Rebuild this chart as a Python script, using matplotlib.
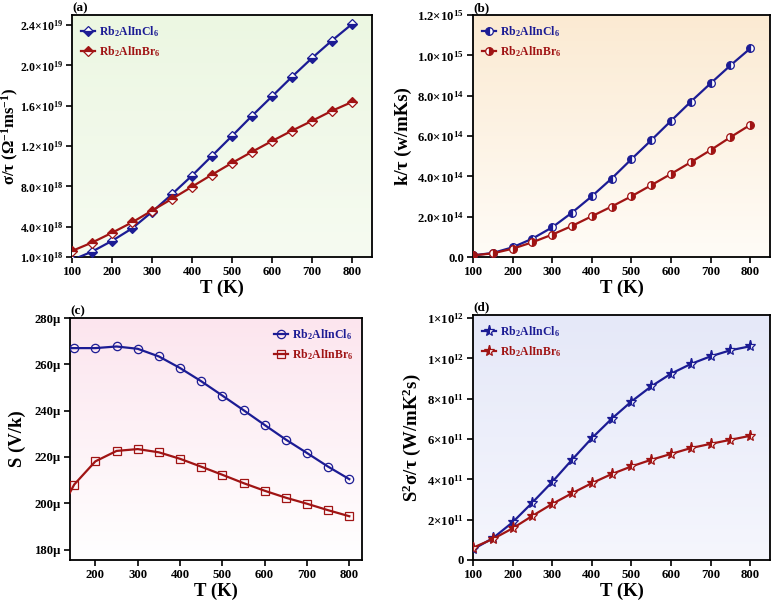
import numpy as np
import matplotlib
matplotlib.use("Agg")
from matplotlib import pyplot as plt
from matplotlib.ticker import FuncFormatter

plt.rcParams["font.family"] = ["Liberation Serif", "DejaVu Serif"]
plt.rcParams["font.weight"] = "bold"
plt.rcParams["mathtext.fontset"] = "custom"
plt.rcParams["mathtext.rm"] = "Liberation Serif:bold"
plt.rcParams["mathtext.bf"] = "Liberation Serif:bold"
plt.rcParams["mathtext.it"] = "Liberation Serif:bold:italic"

T = [100, 150, 200, 250, 300, 350, 400, 450, 500, 550, 600, 650, 700, 750, 800]
LABEL_CL = "Rb$_2$AlInCl$_6$"
LABEL_BR = "Rb$_2$AlInBr$_6$"

# (a) electrical conductivity sigma/tau
sigma_cl = [0.7e18, 1.53e18, 2.6e18, 3.83e18, 5.47e18, 7.23e18, 9.07e18, 1.103e19,
            1.30e19, 1.50e19, 1.693e19, 1.887e19, 2.073e19, 2.247e19, 2.41e19]
sigma_br = [1.6e18, 2.43e18, 3.4e18, 4.43e18, 5.6e18, 6.77e18, 7.97e18, 9.17e18,
            1.033e19, 1.143e19, 1.25e19, 1.353e19, 1.45e19, 1.55e19, 1.637e19]

# (b) electronic thermal conductivity k/tau
kappa_cl = [0.8e13, 2.0e13, 4.8e13, 9.1e13, 1.47e14, 2.2e14, 3.01e14, 3.89e14,
            4.85e14, 5.79e14, 6.75e14, 7.70e14, 8.61e14, 9.5e14, 1.034e15]
kappa_br = [0.8e13, 1.8e13, 4.1e13, 7.3e13, 1.11e14, 1.54e14, 2.02e14, 2.5e14,
            3.01e14, 3.56e14, 4.12e14, 4.70e14, 5.30e14, 5.94e14, 6.55e14]

# (c) Seebeck coefficient, in micro V/K
seebeck_cl = [267.0, 267.0, 267.0, 267.7, 266.7, 263.4, 258.4, 252.7,
              246.5, 240.2, 233.8, 227.5, 221.7, 215.8, 210.4]
seebeck_br = [191.0, 208.1, 218.1, 222.6, 223.4, 222.0, 219.2, 215.8,
              212.3, 208.7, 205.4, 202.4, 199.8, 197.0, 194.4]

# (d) power factor S^2 sigma/tau
pf_cl = [0.53e11, 1.08e11, 1.87e11, 2.85e11, 3.87e11, 4.97e11, 6.04e11, 7.0e11,
         7.86e11, 8.61e11, 9.24e11, 9.72e11, 1.01e12, 1.04e12, 1.06e12]
pf_br = [0.61e11, 1.04e11, 1.57e11, 2.19e11, 2.78e11, 3.31e11, 3.81e11, 4.26e11,
         4.64e11, 4.97e11, 5.26e11, 5.55e11, 5.76e11, 5.96e11, 6.16e11]

BLUE = "#1c1c94"
RED = "#a01414"


def sci(decimals):
    def fmt(v, _pos):
        if v == 0:
            return "0.0" if decimals else "0"
        e = int(np.floor(np.log10(abs(v)) + 1e-9))
        m = v / 10 ** e
        return f"{m:.{decimals}f}×10$^{{{e}}}$"
    return FuncFormatter(fmt)


def gradient(ax, top, bottom):
    c0 = np.array(matplotlib.colors.to_rgb(bottom))
    c1 = np.array(matplotlib.colors.to_rgb(top))
    t = np.linspace(0, 1, 256)[:, None]
    img = c0 * (1 - t) + c1 * t
    ax.imshow(img[:, None, :].repeat(2, axis=1), extent=(0, 1, 0, 1), origin="lower",
              transform=ax.transAxes, aspect="auto", zorder=0, interpolation="bilinear")


def style(ax, tag, xlabel, ylabel, ylab_x, ylab_size=13.5, ytick_size=9.2):
    for s in ax.spines.values():
        s.set_linewidth(1.3)
    ax.tick_params(direction="out", length=4, width=1.2, labelsize=9.2, top=False, right=False,
                   pad=2.5)
    ax.tick_params(axis="y", labelsize=ytick_size)
    for lab in ax.get_xticklabels() + ax.get_yticklabels():
        lab.set_fontweight("bold")
    ax.set_xlabel(xlabel, fontsize=13.5, fontweight="bold", labelpad=1)
    ax.set_ylabel(ylabel, fontsize=ylab_size, fontweight="bold")
    ax.yaxis.set_label_coords(ylab_x, 0.5)
    ax.text(0.0, 1.005, tag, transform=ax.transAxes, fontsize=9.5, fontweight="bold",
            ha="left", va="bottom")
    leg = ax.get_legend()
    for txt, col in zip(leg.get_texts(), [BLUE, RED]):
        txt.set_color(col)


def add_legend(ax, loc):
    ax.legend(loc=loc, frameon=False, handlelength=1.2, handletextpad=0.3,
              borderaxespad=0.35, labelspacing=0.45, prop={"weight": "bold", "size": 8.5})


def plot_pair(ax, y1, y2, m1, m2, fs1, fs2, ms=5.5, loc="upper left"):
    kw = dict(lw=1.6, markersize=ms, markerfacecoloralt="white", markeredgewidth=0.9, zorder=3)
    ax.plot(T, y1, color=BLUE, marker=m1, fillstyle=fs1, markerfacecolor=BLUE,
            markeredgecolor=BLUE, label=LABEL_CL, **kw)
    ax.plot(T, y2, color=RED, marker=m2, fillstyle=fs2, markerfacecolor=RED,
            markeredgecolor=RED, label=LABEL_BR, **kw)
    add_legend(ax, loc)


fig = plt.figure(figsize=(7.74, 6.01), dpi=100)
W, H = 774, 601


def add_axes(l, r, t, b):
    return fig.add_axes([l / W, 1 - b / H, (r - l) / W, (b - t) / H])


XT = [100, 200, 300, 400, 500, 600, 700, 800]

# (a)
ax = add_axes(72, 372, 15, 257)
gradient(ax, "#ecf7e2", "#f6fbf1")
plot_pair(ax, sigma_cl, sigma_br, "D", "D", "bottom", "top", ms=5)
ax.set_xlim(100, 850)
ax.set_ylim(1e18, 2.5e19)
ax.set_xticks(XT)
ax.set_yticks([1e18, 4e18, 8e18, 1.2e19, 1.6e19, 2.0e19, 2.4e19])
ax.yaxis.set_major_formatter(sci(1))
style(ax, "(a)", "T (K)", "σ/τ (Ω$^{-1}$ms$^{-1}$)", -0.17, ylab_size=12, ytick_size=8.5)

# (b)
ax = add_axes(473, 770, 15, 257)
gradient(ax, "#fbead2", "#fffcf7")
plot_pair(ax, kappa_cl, kappa_br, "o", "o", "left", "right")
ax.set_xlim(100, 850)
ax.set_ylim(0, 1.2e15)
ax.set_xticks(XT)
ax.set_yticks(np.arange(0, 1.21e15, 2e14))
ax.yaxis.set_major_formatter(sci(1))
style(ax, "(b)", "T (K)", "k/τ (w/mKs)", -0.205)

# (c)
ax = add_axes(70, 362, 318, 560)
gradient(ax, "#fce5ee", "#ffffff")
plot_pair(ax, seebeck_cl, seebeck_br, "o", "s", "none", "none", ms=6, loc="upper right")
ax.set_xlim(140, 830)
ax.set_ylim(175.5, 280)
ax.set_xticks(XT[1:])
ax.set_yticks([180, 200, 220, 240, 260, 280])
ax.yaxis.set_major_formatter(FuncFormatter(lambda v, p: f"{v:.0f}μ"))
style(ax, "(c)", "T (K)", "S (V/k)", -0.15)

# (d)
ax = add_axes(473, 770, 315, 560)
gradient(ax, "#e5e8f8", "#f5f6fd")
plot_pair(ax, pf_cl, pf_br, "*", "*", "left", "left", ms=8)
ax.set_xlim(100, 850)
ax.set_ylim(0, 1.215e12)
ax.set_xticks(XT)
ax.set_yticks(np.arange(0, 1.21e12, 2e11))
ax.yaxis.set_major_formatter(sci(0))
style(ax, "(d)", "T (K)", "S$^2$σ/τ (W/mK$^2$s)", -0.17)

fig.savefig("out.png", dpi=100)
